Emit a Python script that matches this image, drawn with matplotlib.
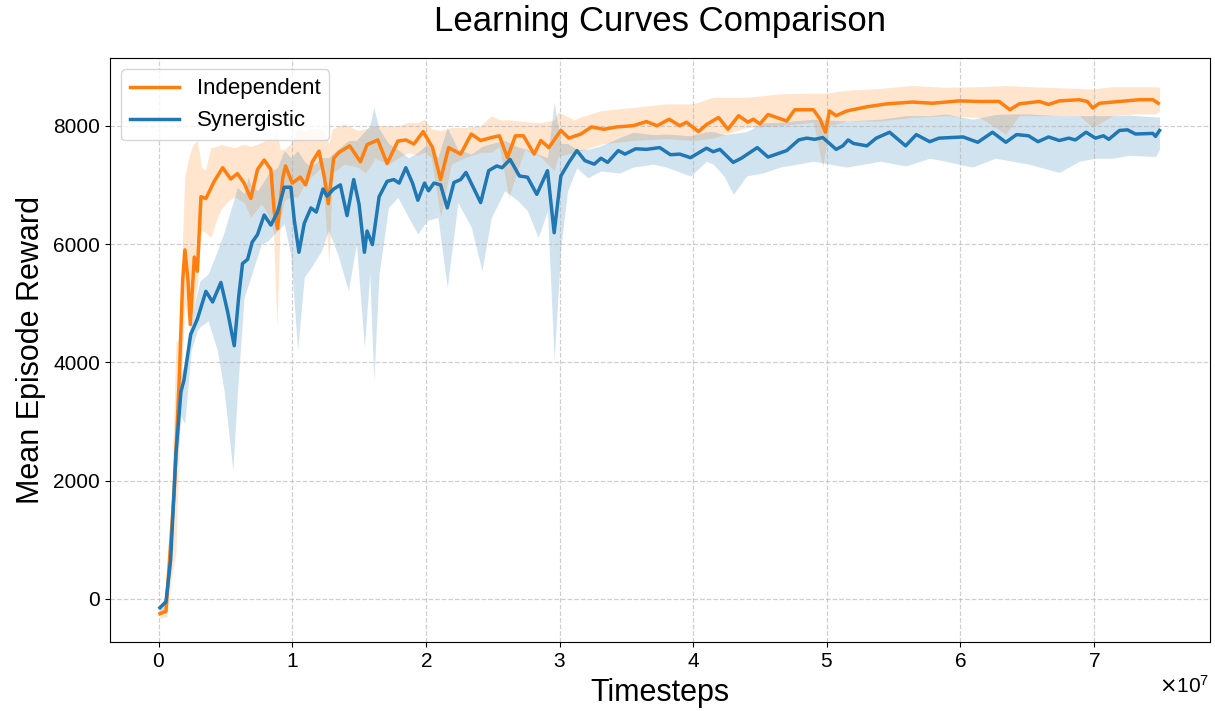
import matplotlib
matplotlib.use("Agg")
import matplotlib.pyplot as plt
import numpy as np

plt.rcParams['font.family'] = ['Liberation Sans', 'DejaVu Sans']

# timesteps in units of 1e7
ind_x = [0.01, 0.055, 0.117, 0.155, 0.18, 0.197, 0.22, 0.237, 0.267, 0.29, 0.317, 0.354, 0.416, 0.479,
         0.54, 0.59, 0.64, 0.69, 0.74, 0.79, 0.84, 0.865, 0.89, 0.93, 0.95, 1.0, 1.06, 1.10, 1.15, 1.20,
         1.24, 1.27, 1.31, 1.35, 1.43, 1.51, 1.56, 1.64, 1.71, 1.79, 1.85, 1.91, 1.98, 2.05, 2.11, 2.17,
         2.26, 2.34, 2.41, 2.49, 2.55, 2.61, 2.67, 2.73, 2.81, 2.86, 2.92, 3.01, 3.07, 3.16, 3.24, 3.33,
         3.43, 3.55, 3.65, 3.73, 3.82, 3.90, 3.95, 4.04, 4.10, 4.19, 4.26, 4.34, 4.41, 4.45, 4.50, 4.56,
         4.70, 4.76, 4.90, 4.95, 4.99, 5.02, 5.07, 5.15, 5.30, 5.45, 5.64, 5.79, 5.99, 6.14, 6.29, 6.37,
         6.44, 6.59, 6.66, 6.74, 6.89, 6.95, 6.99, 7.04, 7.19, 7.34, 7.44, 7.48]
ind_y = [-250, -210, 1820, 3760, 5380, 5900, 5380, 4640, 5780, 5540, 6800, 6770, 7060, 7290,
         7100, 7190, 7030, 6770, 7260, 7420, 7260, 6550, 6260, 7130, 7320, 7030, 7130, 7000, 7390, 7570,
         7130, 6680, 7450, 7550, 7660, 7390, 7680, 7760, 7360, 7740, 7760, 7690, 7900, 7630, 7090, 7630,
         7520, 7860, 7750, 7800, 7830, 7460, 7830, 7830, 7520, 7750, 7630, 7920, 7790, 7860, 7980, 7940,
         7980, 8000, 8070, 8000, 8110, 8000, 8060, 7900, 8020, 8140, 7940, 8170, 8060, 8110, 8030, 8190,
         8080, 8270, 8270, 8110, 7890, 8250, 8170, 8250, 8320, 8370, 8400, 8380, 8420, 8410, 8410, 8270,
         8370, 8410, 8360, 8420, 8440, 8410, 8300, 8380, 8410, 8440, 8440, 8380]

syn_x = [0.01, 0.055, 0.09, 0.13, 0.167, 0.19, 0.24, 0.29, 0.354, 0.404, 0.466, 0.516, 0.566, 0.60,
         0.628, 0.666, 0.70, 0.74, 0.79, 0.84, 0.89, 0.94, 0.99, 1.015, 1.05, 1.09, 1.14, 1.18, 1.23,
         1.26, 1.31, 1.36, 1.41, 1.46, 1.50, 1.54, 1.56, 1.60, 1.65, 1.71, 1.76, 1.80, 1.85, 1.90, 1.94,
         1.99, 2.02, 2.06, 2.11, 2.16, 2.21, 2.26, 2.30, 2.35, 2.41, 2.47, 2.53, 2.57, 2.63, 2.70, 2.76,
         2.83, 2.91, 2.96, 3.01, 3.07, 3.13, 3.19, 3.26, 3.31, 3.36, 3.44, 3.49, 3.57, 3.65, 3.75, 3.83,
         3.90, 3.98, 4.10, 4.15, 4.20, 4.30, 4.36, 4.48, 4.56, 4.70, 4.79, 4.85, 4.91, 4.97, 5.07, 5.12,
         5.16, 5.20, 5.30, 5.37, 5.47, 5.59, 5.67, 5.77, 5.84, 6.02, 6.13, 6.24, 6.34, 6.42, 6.51, 6.58,
         6.66, 6.74, 6.81, 6.86, 6.94, 7.01, 7.07, 7.11, 7.19, 7.25, 7.31, 7.44, 7.46, 7.49]
syn_y = [-150, -50, 660, 2470, 3500, 3700, 4470, 4730, 5200, 5020, 5350, 4860, 4280, 5120,
         5670, 5740, 6030, 6160, 6490, 6320, 6540, 6960, 6960, 6410, 5860, 6350, 6610, 6540, 6930,
         6810, 6930, 7000, 6480, 7090, 6670, 5860, 6220, 5990, 6800, 7060, 7090, 7030, 7290, 7030, 6740,
         7030, 6900, 7030, 7000, 6610, 7040, 7090, 7210, 6980, 6700, 7240, 7320, 7290, 7430, 7150, 7130,
         6840, 7240, 6190, 7150, 7380, 7580, 7410, 7350, 7450, 7380, 7580, 7520, 7610, 7600, 7630, 7510,
         7520, 7460, 7620, 7560, 7600, 7380, 7450, 7630, 7470, 7580, 7760, 7790, 7770, 7800, 7600, 7660,
         7760, 7700, 7660, 7790, 7890, 7660, 7850, 7730, 7790, 7810, 7720, 7890, 7720, 7850, 7830, 7730,
         7810, 7750, 7790, 7760, 7890, 7790, 7830, 7770, 7920, 7930, 7860, 7870, 7820, 7920]

# shaded spread (lower / upper)
ind_band_x = [0.01, 0.06, 0.10, 0.13, 0.145, 0.17, 0.195, 0.23, 0.26, 0.29, 0.32, 0.35, 0.39, 0.44,
              0.47, 0.52, 0.57, 0.64, 0.69, 0.74, 0.77, 0.82, 0.86, 0.885, 0.91, 0.94, 0.99, 1.04,
              1.09, 1.14, 1.22, 1.275, 1.30, 1.39, 1.49, 1.55, 1.62, 1.72, 1.79, 1.87, 1.94, 1.99,
              2.04, 2.11, 2.19, 2.29, 2.41, 2.49, 2.55, 2.62, 2.74, 2.86, 2.96, 2.99, 3.11, 3.16,
              3.31, 3.55, 3.80, 4.0, 4.15, 4.30, 4.40, 4.65, 4.90, 4.97, 5.02, 5.15, 5.40, 5.64,
              5.89, 6.14, 6.34, 6.44, 6.64, 6.89, 6.99, 7.14, 7.30, 7.46, 7.49]
ind_lo = [-330, -300, 400, 800, 2000, 3690, 4990, 4650, 4900, 5320, 6230, 6200, 6110, 6450,
          6600, 6730, 6800, 6700, 6450, 6600, 6680, 6500, 6200, 4600, 6400, 6730, 6800, 6790,
          7000, 7130, 7300, 5660, 7200, 7350, 7300, 7200, 7450, 7350, 7450, 7550, 7500, 7550,
          7460, 6450, 7350, 7460, 7550, 7550, 7650, 6790, 7600, 7470, 7240, 7480, 7550, 7575,
          7690, 7750, 7780, 7750, 7790, 7900, 7970, 8000, 8060, 7290, 8000, 8080, 8080, 8140,
          8170, 8140, 7860, 8170, 8170, 8170, 7970, 8170, 8200, 8200, 8250]
ind_hi = [-180, -120, 2000, 4350, 4370, 5500, 7130, 7500, 7690, 7750, 7300, 7240, 7630, 7650,
          7690, 7650, 7630, 7690, 7650, 7690, 7720, 7775, 7800, 7900, 7600, 7600, 7700, 7970,
          7900, 7950, 7950, 7700, 7950, 8030, 7920, 7950, 8000, 8000, 8000, 8060, 8050, 8110,
          7950, 7920, 7970, 7970, 8000, 8170, 8100, 8100, 8070, 8050, 8100, 8230, 8100, 8150,
          8255, 8310, 8370, 8370, 8480, 8480, 8480, 8540, 8550, 8550, 8560, 8600, 8630, 8680,
          8650, 8660, 8680, 8670, 8650, 8630, 8620, 8660, 8660, 8660, 8650]

syn_band_x = [0.01, 0.06, 0.09, 0.13, 0.167, 0.195, 0.244, 0.29, 0.31, 0.37, 0.44, 0.49, 0.556, 0.59,
              0.64, 0.67, 0.69, 0.74, 0.77, 0.82, 0.89, 0.94, 0.99, 1.04, 1.09, 1.14, 1.22, 1.27,
              1.34, 1.42, 1.48, 1.54, 1.58, 1.61, 1.65, 1.72, 1.79, 1.87, 1.94, 2.01, 2.09, 2.16,
              2.24, 2.34, 2.42, 2.49, 2.59, 2.69, 2.76, 2.84, 2.91, 2.96, 3.01, 3.06, 3.13, 3.21,
              3.31, 3.45, 3.55, 3.70, 3.80, 3.98, 4.10, 4.15, 4.23, 4.30, 4.40, 4.52, 4.65, 4.90,
              5.15, 5.40, 5.59, 5.77, 5.89, 6.09, 6.26, 6.39, 6.51, 6.74, 6.89, 7.01, 7.14, 7.26,
              7.46, 7.49]
syn_lo = [-220, -120, 450, 2100, 3100, 2960, 4200, 4540, 4600, 4700, 4200, 3520, 2170, 3500,
          5100, 5300, 5440, 5800, 6000, 6060, 6230, 6340, 5800, 4200, 5440, 5600, 5890, 6230,
          5830, 5210, 6000, 4250, 5500, 3690, 5500, 6620, 6790, 6450, 6170, 6400, 6450, 5270,
          6700, 6280, 5550, 6450, 6900, 6730, 6560, 6110, 6560, 4030, 5950, 6900, 7290, 7120,
          7235, 7200, 7300, 7350, 7300, 7150, 7400, 7350, 7150, 6840, 7150, 7200, 7300, 7400,
          7300, 7400, 7320, 7450, 7400, 7300, 7450, 7400, 7350, 7210, 7400, 7450, 7450, 7500,
          7480, 7600]
syn_hi = [-100, 40, 900, 2900, 3800, 3970, 4760, 5200, 5380, 5490, 5890, 6200, 6700, 6960,
          6850, 7130, 7000, 6900, 7000, 7180, 7300, 7580, 7460, 7580, 7400, 7300, 7460, 7460,
          7600, 7750, 7750, 7900, 8000, 8310, 7950, 7700, 7600, 7460, 7550, 7690, 7460, 7970,
          7600, 7520, 7650, 7700, 7750, 7640, 7600, 7520, 7460, 8400, 7700, 7700, 7600, 7600,
          7660, 7800, 7890, 7850, 7860, 7830, 7900, 7900, 7850, 7870, 7900, 8050, 8060, 8110,
          8080, 8110, 8170, 8170, 8200, 8110, 8190, 8200, 8200, 8170, 8170, 8170, 8170, 8180,
          8150, 8150]

SCALE = 1e7


def main():
    fig = plt.figure(figsize=(12.15, 7.11), dpi=100)
    ax = fig.add_axes([0.0905, 0.097, 0.905, 0.821])

    ax.fill_between(np.array(ind_band_x) * SCALE, ind_lo, ind_hi, color='#ff7f0e', alpha=0.2, lw=0)
    ax.fill_between(np.array(syn_band_x) * SCALE, syn_lo, syn_hi, color='#1f77b4', alpha=0.2, lw=0)
    ax.plot(np.array(ind_x) * SCALE, ind_y, color='#ff7f0e', lw=2.5, label='Independent',
            solid_joinstyle='round')
    ax.plot(np.array(syn_x) * SCALE, syn_y, color='#1f77b4', lw=2.5, label='Synergistic',
            solid_joinstyle='round')

    ax.set_xlim(-0.364 * SCALE, 7.864 * SCALE)
    ax.set_ylim(-730, 9140)
    ax.set_yticks([0, 2000, 4000, 6000, 8000])
    ax.ticklabel_format(axis='x', style='sci', scilimits=(0, 0), useMathText=True)
    ax.grid(True, linestyle='--', color='#b0b0b0', alpha=0.6, lw=0.9)
    ax.tick_params(labelsize=15)
    ax.xaxis.get_offset_text().set_fontsize(15)

    ax.set_title('Learning Curves Comparison', fontsize=25, pad=20)
    ax.set_xlabel('Timesteps', fontsize=22, labelpad=5)
    ax.set_ylabel('Mean Episode Reward', fontsize=22, labelpad=5)
    ax.legend(loc='upper left', fontsize=16, handlelength=2.2)

    fig.savefig('out.png', dpi=100)


main()
